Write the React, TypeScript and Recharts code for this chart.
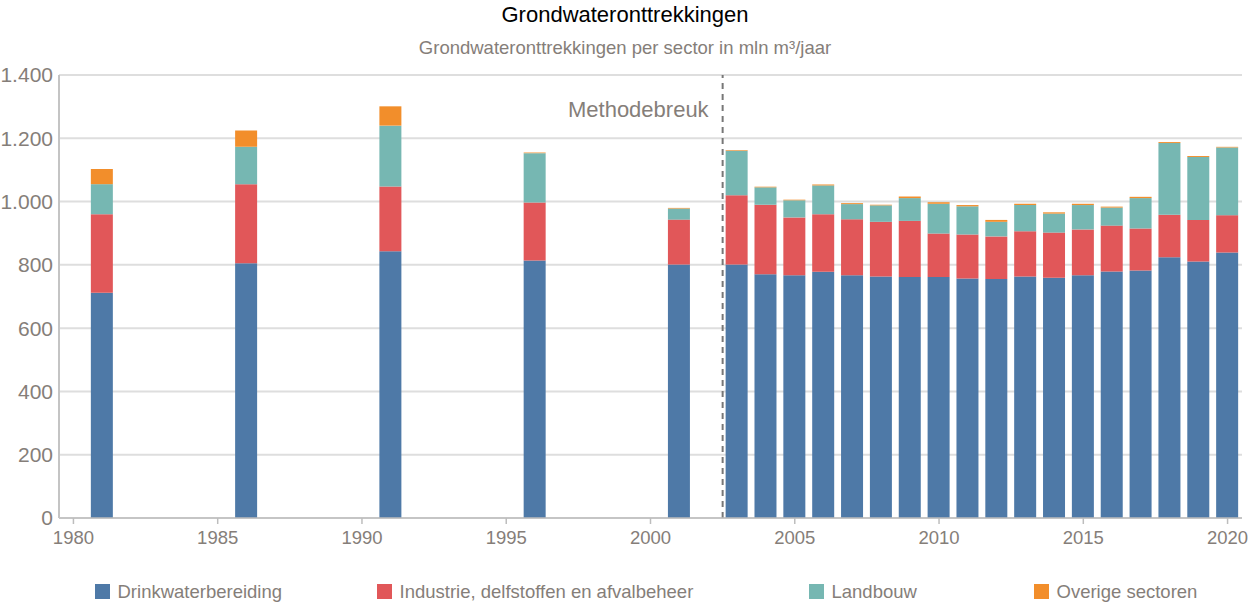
import React from 'react';
import { BarChart, Bar, XAxis, YAxis, CartesianGrid, ReferenceLine } from 'recharts';

const years = [1981, 1986, 1991, 1996, 2001, 2003, 2004, 2005, 2006, 2007, 2008, 2009, 2010, 2011, 2012, 2013, 2014, 2015, 2016, 2017, 2018, 2019, 2020];
const drinkwater = [712, 805, 843, 814, 801, 801, 770, 767, 778, 767, 763, 762, 762, 757, 755, 763, 759, 767, 779, 782, 824, 811, 839];
const industrie = [248, 250, 205, 183, 142, 219, 220, 183, 182, 177, 173, 177, 137, 139, 135, 143, 143, 145, 145, 133, 134, 131, 118];
const landbouw = [95, 118, 192, 156, 35, 141, 55, 54, 91, 48, 52, 72, 94, 89, 46, 83, 60, 77, 57, 96, 227, 199, 214];
const overige = [48, 52, 61, 2, 2, 2, 2, 2, 3, 3, 2, 5, 5, 4, 6, 4, 4, 4, 3, 4, 3, 3, 2];

const yTicks = [0, 200, 400, 600, 800, 1000, 1200, 1400];
const xTicks = [1980, 1985, 1990, 1995, 2000, 2005, 2010, 2015, 2020];

const seriesKeys = ['drinkwater', 'industrie', 'landbouw', 'overige'];
const seriesNames = ['Drinkwaterbereiding', 'Industrie, delfstoffen en afvalbeheer', 'Landbouw', 'Overige sectoren'];
const seriesColors = ['#4e79a7', '#e15759', '#76b7b2', '#f28e2b'];
const legendX = [95, 377, 809, 1034];

const title = 'Grondwateronttrekkingen';
const subtitle = 'Grondwateronttrekkingen per sector in mln m³/jaar';
const breakYear = 2002.5;
const breakLabel = 'Methodebreuk';

const data = years.map((year, i) => ({
  year,
  drinkwater: drinkwater[i],
  industrie: industrie[i],
  landbouw: landbouw[i],
  overige: overige[i],
}));

const FONT = '"Liberation Sans", Arial, Helvetica, sans-serif';
const GREY = '#857e79';

const fmt = (v: number) => String(v).replace(/\B(?=(\d{3})+(?!\d))/g, '.');

export default function App() {
  return (
    <div style={{ position: 'absolute', left: 0, top: 0, width: 1250, height: 604, background: '#fff', fontFamily: FONT }}>
      <BarChart
        width={1250}
        height={604}
        data={data}
        margin={{ top: 75, right: 8, left: 0, bottom: 46 }}
        barSize={22}
      >
        <CartesianGrid vertical={false} stroke="#dedede" strokeWidth={2} />
        <XAxis
          dataKey="year"
          type="number"
          domain={[1979.5, 2020.5]}
          ticks={xTicks}
          allowDataOverflow
          height={40}
          tickSize={6}
          tickMargin={7}
          stroke="#bdbdbd"
          strokeWidth={1.5}
          tick={{ fill: GREY, fontSize: 18.5, fontFamily: FONT }}
        />
        <YAxis
          domain={[0, 1400]}
          ticks={yTicks}
          width={59}
          tickSize={0}
          tickMargin={6}
          tickFormatter={fmt}
          stroke="#c4c4c4"
          strokeWidth={2}
          tick={{ fill: GREY, fontSize: 21, fontFamily: FONT }}
        />
        {seriesKeys.map((k, i) => (
          <Bar key={k} dataKey={k} name={seriesNames[i]} stackId="a" fill={seriesColors[i]} isAnimationActive={false} />
        ))}
        <ReferenceLine
          x={breakYear}
          stroke="#777"
          strokeWidth={2}
          strokeDasharray="6 5"
          label={(props: any) => (
            <text
              x={(props.viewBox?.x ?? 723) - 14}
              y={117}
              textAnchor="end"
              fill={GREY}
              fontSize={22}
              fontFamily={FONT}
            >
              {breakLabel}
            </text>
          )}
        />
      </BarChart>
      <svg width={1250} height={604} style={{ position: 'absolute', left: 0, top: 0, pointerEvents: 'none' }}>
        <text x={625} y={22} textAnchor="middle" fill="#000" fontSize={22} fontFamily={FONT}>
          {title}
        </text>
        <text x={625} y={54} textAnchor="middle" fill={GREY} fontSize={18.5} fontFamily={FONT}>
          {subtitle}
        </text>
        {seriesNames.map((n, i) => (
          <g key={n}>
            <rect x={legendX[i]} y={584} width={15} height={15} fill={seriesColors[i]} />
            <text x={legendX[i] + 22.5} y={598} fill={GREY} fontSize={18.5} fontFamily={FONT}>
              {n}
            </text>
          </g>
        ))}
      </svg>
    </div>
  );
}
